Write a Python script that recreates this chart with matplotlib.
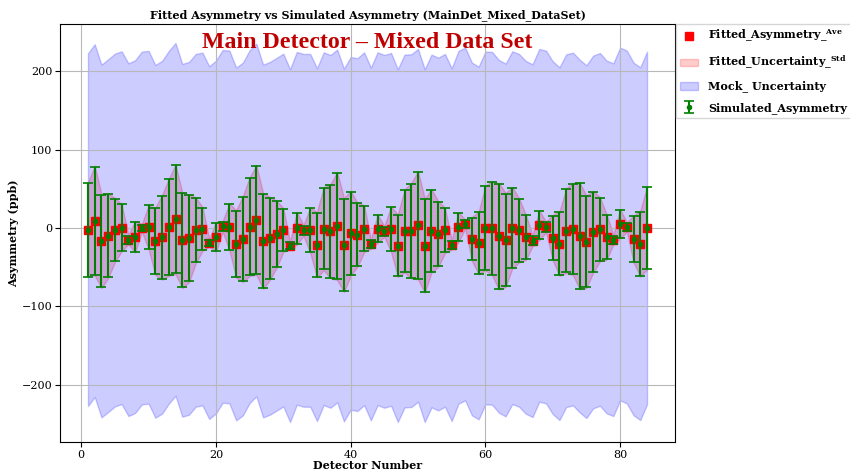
import numpy as np
import matplotlib
matplotlib.use('Agg')
import matplotlib.pyplot as plt

plt.rcParams['font.family'] = 'DejaVu Serif'
plt.rcParams['mathtext.fontset'] = 'dejavuserif'
plt.rcParams['mathtext.default'] = 'bf'

# detector numbers 1..84
detectors = list(range(1, 85))

# fitted asymmetry averages (ppb)
fitted_asym = [-2.1, 9.4, -16.6, -9.8, -2.6, 0.4, -14.9, -11.0, 0.0, 0.9,
               -17.0, -11.9, 0.9, 11.0, -15.7, -13.2, -3.0, -1.3, -18.7, -11.5,
               2.1, 1.3, -20.4, -14.0, 1.7, 10.2, -16.6, -13.2, -8.0, -2.6,
               -22.5, -0.4, -3.0, -3.0, -21.3, -0.9, -4.3, 2.6, -21.7, -6.8,
               -8.5, -0.9, -20.4, -0.9, -4.3, -1.7, -22.5, -3.8, -3.4, 3.4,
               -22.5, -3.8, -7.7, -3.0, -21.3, 0.9, 5.1, -14.0, -19.1, 0.0,
               -0.4, -10.6, -15.3, 0.4, -3.0, -11.9, -16.2, 3.4, 1.3, -12.3,
               -20.0, -3.4, -1.3, -10.2, -17.4, -5.1, -1.7, -11.5, -14.9, 5.1,
               1.3, -14.0, -20.0, 0.0]

# simulated asymmetry (same detectors)
sim_asym = [-2.1, 9.4, -16.6, -9.8, -2.6, 0.4, -14.9, -11.0, 0.0, 0.9,
            -17.0, -11.9, 0.9, 11.0, -15.7, -13.2, -3.0, -1.3, -18.7, -11.5,
            2.1, 1.3, -20.4, -14.0, 1.7, 10.2, -16.6, -13.2, -8.0, -2.6,
            -22.5, -0.4, -3.0, -3.0, -21.3, -0.9, -4.3, 2.6, -21.7, -6.8,
            -8.5, -0.9, -20.4, -0.9, -4.3, -1.7, -22.5, -3.8, -3.4, 3.4,
            -22.5, -3.8, -7.7, -3.0, -21.3, 0.9, 5.1, -14.0, -19.1, 0.0,
            -0.4, -10.6, -15.3, 0.4, -3.0, -11.9, -16.2, 3.4, 1.3, -12.3,
            -20.0, -3.4, -1.3, -10.2, -17.4, -5.1, -1.7, -11.5, -14.9, 5.1,
            1.3, -14.0, -20.0, 0.0]

# simulated asymmetry errors (ppb)
sim_err = [60, 69, 59, 53, 40, 30, 5, 19, 4, 28,
           42, 53, 61, 69, 60, 55, 41, 27, 4, 18,
           6, 29, 42, 54, 62, 69, 60, 52, 42, 27,
           4, 20, 6, 28, 41, 52, 59, 68, 59, 53,
           40, 29, 5, 17, 6, 28, 39, 52, 60, 68,
           59, 52, 41, 28, 5, 18, 5, 27, 39, 53,
           59, 67, 59, 51, 40, 28, 6, 18, 6, 28,
           40, 53, 58, 67, 58, 51, 40, 28, 5, 18,
           5, 29, 41, 52]

# std of the fitted asymmetry
fit_std = [60, 70, 60, 54, 41, 30, 6, 20, 5, 28,
           43, 54, 62, 70, 61, 56, 42, 28, 5, 19,
           7, 30, 43, 55, 63, 70, 61, 53, 43, 28,
           5, 21, 7, 29, 42, 53, 60, 69, 60, 54,
           41, 30, 6, 18, 7, 29, 40, 53, 61, 69,
           60, 53, 42, 29, 6, 19, 6, 28, 40, 54,
           60, 68, 60, 52, 41, 29, 7, 19, 7, 29,
           41, 54, 59, 68, 59, 52, 41, 29, 6, 19,
           6, 30, 42, 53]

mock_uncertainty = 225.0

x = np.array(detectors)
fa = np.array(fitted_asym)
fs = np.array(fit_std)

fig = plt.figure(figsize=(8.5, 4.74), dpi=100)
ax = fig.add_axes([0.0706, 0.0675, 0.7235, 0.8815])

ax.plot(x, fa, 's', color='red', markersize=5.5, label=r'Fitted_Asymmetry_$^{Ave}$', zorder=3)
ax.fill_between(x, fa - fs, fa + fs, color='red', alpha=0.2, label=r'Fitted_Uncertainty_$^{Std}$')
ax.fill_between(x, fa - mock_uncertainty, fa + mock_uncertainty, color='blue', alpha=0.2,
                label='Mock_ Uncertainty')
ax.errorbar(x, sim_asym, yerr=sim_err, fmt='o', color='green', markersize=3,
            elinewidth=1.5, capsize=3.5, capthick=1.2, label='Simulated_Asymmetry', zorder=4)

ax.set_xticks([0, 20, 40, 60, 80])
ax.set_yticks([-200, -100, 0, 100, 200])
ax.set_ylim(-273, 260)
ax.tick_params(labelsize=8, pad=2)
ax.grid(True, color='#b8b8b8', linewidth=0.8)

ax.set_xlabel('Detector Number', fontsize=8, weight='bold', labelpad=0)
ax.set_ylabel('Asymmetry (ppb)', fontsize=8, weight='bold', labelpad=2)
ax.set_title('Fitted Asymmetry vs Simulated Asymmetry (MainDet_Mixed_DataSet)',
             fontsize=8, weight='bold', pad=4)
ax.text(0.5, 0.982, 'Main Detector \u2013 Mixed Data Set', transform=ax.transAxes,
        ha='center', va='top', color='#c00000', fontsize=17.2, weight='bold',
        family='Liberation Serif')

ax.legend(loc='upper left', bbox_to_anchor=(1.0, 1.003), borderaxespad=0.1,
          prop={'weight': 'bold', 'size': 8}, labelspacing=0.85, borderpad=0.35,
          handlelength=1.6, handletextpad=0.9, fancybox=False)

plt.savefig('out.png', dpi=100)
